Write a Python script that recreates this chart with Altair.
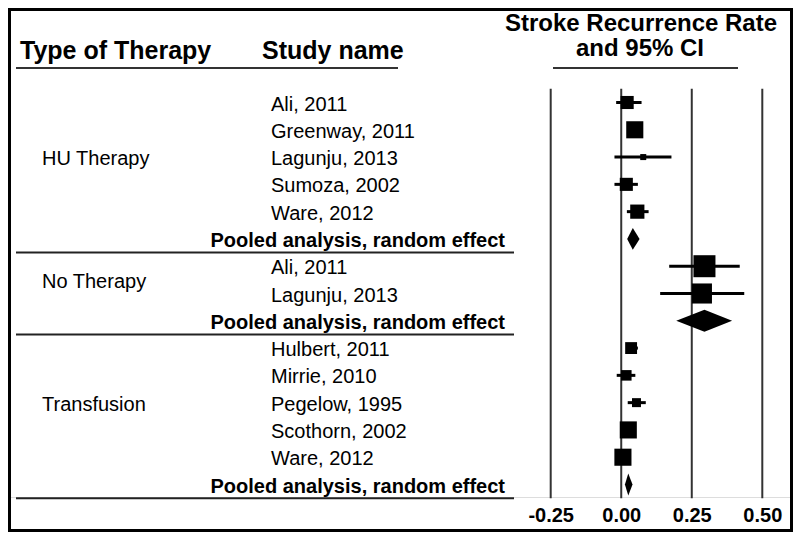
import altair as alt
import pandas as pd

# ---------------- data ----------------
therapy = ["HU Therapy"] * 6 + ["No Therapy"] * 3 + ["Transfusion"] * 6
studies = [
    "Ali, 2011", "Greenway, 2011", "Lagunju, 2013", "Sumoza, 2002", "Ware, 2012",
    "Pooled analysis, random effect",
    "Ali, 2011", "Lagunju, 2013",
    "Pooled analysis, random effect",
    "Hulbert, 2011", "Mirrie, 2010", "Pegelow, 1995", "Scothorn, 2002", "Ware, 2012",
    "Pooled analysis, random effect",
]
pooled = [False, False, False, False, False, True,
          False, False, True,
          False, False, False, False, False, True]
rate = [0.021, 0.048, 0.078, 0.018, 0.057, 0.041,
        0.295, 0.286, 0.295,
        0.035, 0.018, 0.054, 0.025, 0.006, 0.025]
lower = [-0.018, 0.035, -0.024, -0.024, 0.020, 0.021,
         0.170, 0.138, 0.195,
         0.018, -0.016, 0.023, 0.010, -0.005, 0.013]
upper = [0.072, 0.062, 0.178, 0.059, 0.097, 0.065,
         0.420, 0.436, 0.393,
         0.059, 0.050, 0.087, 0.040, 0.018, 0.040]
weight = [17, 29, 3.6, 17, 20, None,
          48, 40, None,
          14, 11, 8, 29, 29, None]
tick_values = [-0.25, 0.0, 0.25, 0.50]

# ---------------- tables ----------------
rows = list(range(len(studies)))
df = pd.DataFrame({"row": rows, "therapy": therapy, "study": studies,
                   "pooled": pooled, "rate": rate, "lower": lower,
                   "upper": upper, "weight": weight})
studies_df = df[~df["pooled"]]
pooled_df = df[df["pooled"]]

HALF = 0.4
dia = []
for _, r in pooled_df.iterrows():
    dia.append({"g": r["row"], "x": r["lower"], "yt": r["row"], "yb": r["row"]})
    dia.append({"g": r["row"], "x": r["rate"], "yt": r["row"] - HALF, "yb": r["row"] + HALF})
    dia.append({"g": r["row"], "x": r["upper"], "yt": r["row"], "yb": r["row"]})
dia_df = pd.DataFrame(dia)

grp = df.groupby("therapy", sort=False)["row"]
names = list(grp.groups.keys())
groups_df = pd.DataFrame({"therapy": names,
                          "row": [studies_df[studies_df["therapy"] == t]["row"].mean()
                                  for t in names]})
sep_df = pd.DataFrame({"row": [grp.get_group(t).max() + 0.5 for t in names]})
first_row, last_row = min(rows), max(rows)
grid_df = pd.DataFrame({"v": tick_values, "y0": [first_row - 0.5] * 4, "y1": [last_row + 0.5] * 4})

FONT = "Liberation Sans"
xs = alt.Scale(domain=[-0.25, 0.50], range=[542.7, 754.3])
ys = alt.Scale(domain=[first_row, last_row], range=[94.5, 476.5])
xaxis = alt.Axis(values=tick_values, grid=False, domain=False, ticks=False,
                 tickSize=0, labelPadding=8, labelFont=FONT, labelFontSize=20,
                 labelFontWeight="bold", labelColor="black", title=None,
                 labelFlush=False, labelOverlap=False, labelAlign="center",
                 labelExpr="datum.value < 0 ? '-' + format(-datum.value, '.2f') : format(datum.value, '.2f')")

grid = alt.Chart(grid_df).mark_rule(color="#333333", strokeWidth=2).encode(
    x=alt.X("v:Q", scale=xs, axis=xaxis, title=None),
    y=alt.Y("y0:Q", scale=ys, axis=None),
    y2="y1:Q",
)

ci = alt.Chart(studies_df).mark_rule(color="black", strokeWidth=3).encode(
    x=alt.X("lower:Q", scale=xs, axis=xaxis, title=None),
    x2="upper:Q",
    y=alt.Y("row:Q", scale=ys, axis=None),
)

squares = alt.Chart(studies_df).mark_square(color="black", filled=True, opacity=1).encode(
    x=alt.X("rate:Q", scale=xs, axis=xaxis, title=None),
    y=alt.Y("row:Q", scale=ys, axis=None),
    size=alt.Size("weight:Q", scale=alt.Scale(domain=[0, 48], range=[0, 484]), legend=None),
)

diamonds = alt.Chart(dia_df).mark_area(color="black", opacity=1).encode(
    x=alt.X("x:Q", scale=xs, axis=xaxis, title=None),
    y=alt.Y("yt:Q", scale=ys, axis=None),
    y2="yb:Q",
    detail="g:N",
)

study_text = alt.Chart(studies_df).mark_text(
    align="left", baseline="middle", font=FONT, fontSize=20, color="black", dy=2
).encode(x=alt.value(263), y=alt.Y("row:Q", scale=ys, axis=None), text="study:N")

pooled_text = alt.Chart(pooled_df).mark_text(
    align="right", baseline="middle", font=FONT, fontSize=20, fontWeight="bold", color="black", dy=2
).encode(x=alt.value(497), y=alt.Y("row:Q", scale=ys, axis=None), text="study:N")

group_text = alt.Chart(groups_df).mark_text(
    align="left", baseline="middle", font=FONT, fontSize=20, color="black", dy=2
).encode(x=alt.value(34), y=alt.Y("row:Q", scale=ys, axis=None), text="therapy:N")

seps = alt.Chart(sep_df).mark_rule(color="#222222", strokeWidth=2).encode(
    x=alt.value(8), x2=alt.value(506), y=alt.Y("row:Q", scale=ys, axis=None)
)

hdr = pd.DataFrame({"a": [0]})
def header(txt, x, y, align, size):
    return alt.Chart(hdr).mark_text(
        text=txt, align=align, baseline="middle", font=FONT, fontSize=size,
        fontWeight="bold", color="black"
    ).encode(x=alt.value(x), y=alt.value(y))

h1 = header("Type of Therapy", 12, 43, "left", 25)
h2 = header("Study name", 254, 43, "left", 25)
h3 = header("Stroke Recurrence Rate", 633, 16, "center", 24)
h4 = header("and 95% CI", 632, 41, "center", 24)
u1 = alt.Chart(hdr).mark_rule(color="#333333", strokeWidth=2).encode(
    x=alt.value(8), x2=alt.value(390), y=alt.value(60))
u2 = alt.Chart(hdr).mark_rule(color="#333333", strokeWidth=2).encode(
    x=alt.value(545), x2=alt.value(730), y=alt.value(60))
frame = alt.Chart(hdr).mark_rect(filled=False, stroke="black", strokeWidth=3).encode(
    x=alt.value(1.5), x2=alt.value(783.5), y=alt.value(1.5), y2=alt.value(522.5))

chart = alt.layer(
    grid, seps, u1, u2, ci, squares, diamonds,
    study_text, pooled_text, group_text, h1, h2, h3, h4, frame
).properties(
    width=785, height=489,
    autosize=alt.AutoSizeParams(type="none"),
    padding={"left": 0, "top": 0, "right": 0, "bottom": 35},
).configure_view(stroke=None).configure(background="white")

chart.save("out.html", embed_options={"renderer": "svg", "actions": False})
